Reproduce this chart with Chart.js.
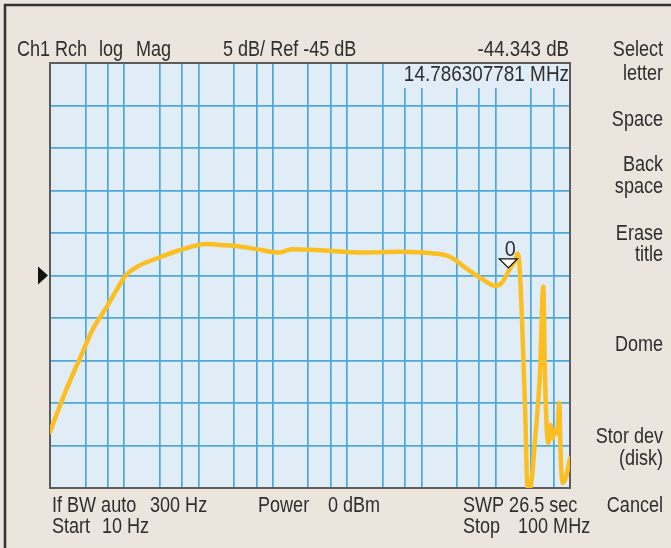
<!DOCTYPE html>
<html>
<head>
<meta charset="utf-8">
<script src="https://cdn.jsdelivr.net/npm/chart.js@4"></script>
<style>
  html, body { margin: 0; padding: 0; background: #ebe5dd; }
  canvas { display: block; }
</style>
</head>
<body>
<canvas id="trace" width="671" height="548"></canvas>
<script>
// Trace (Hz, dB)
const freqHz = [10, 15.9, 20.6, 28.1, 38.3, 58, 79, 102, 147, 273, 562, 1285, 1940, 2930, 6050,
    11800, 13800, 17900, 38900, 165000, 514000, 1.45e6, 2.42e6, 4.06e6, 6.81e6, 9.78e6,
    1.2e7, 1.556e7, 1.82e7, 1.98e7, 2.12e7, 2.48e7, 2.69e7, 2.89e7, 3.38e7, 3.94e7, 4.37e7,
    4.6e7, 4.85e7, 5.1e7, 5.5e7, 5.85e7, 6.28e7, 6.75e7, 7.18e7, 7.5e7, 7.98e7, 8.84e7, 1e8];
const magDb = [-63.4, -58.8, -56.5, -53.8, -51.2, -48.7, -46.7, -45.1, -44.0, -43.0, -42.0, -41.3, -41.4, -41.5, -41.9,
    -42.3, -42.2, -41.9, -42.0, -42.3, -42.2, -42.4, -42.8, -44.2, -45.5, -46.2,
    -45.9, -44.2, -43.2, -42.4, -44.7, -60.4, -70, -70, -64.4, -56.5, -46.3,
    -56.5, -62.8, -64.7, -62.6, -64.2, -63.2, -63.6, -60.0, -66.3, -69.4, -68.7, -66.5];

// vertical graticule at 1, 3, 6 x each decade
const gridFreqs = [10, 30, 60, 100, 300, 600, 1e3, 3e3, 6e3, 1e4, 3e4, 6e4, 1e5, 3e5, 6e5,
    1e6, 3e6, 6e6, 1e7, 3e7, 6e7, 1e8];
const refDb = -45;
const markerFreq = 14.786307781e6;
const markerDb = -44.343;

const headerLeft = [["Ch1", 17], ["Rch", 55], ["log", 99], ["Mag", 136], ["5 dB/ Ref -45 dB", 223]];
const footer = [
    ["If BW auto", 52, 512], ["300 Hz", 150, 512], ["Power", 258, 512], ["0 dBm", 328, 512], ["SWP 26.5 sec", 463, 512],
    ["Start", 52, 533], ["10 Hz", 102, 533], ["Stop", 463, 533], ["100 MHz", 518, 533]
];
const softKeys = [["Select", 56], ["letter", 80], ["Space", 126], ["Back", 171], ["space", 193],
    ["Erase", 240], ["title", 261], ["Dome", 351], ["Stor dev", 443], ["(disk)", 465], ["Cancel", 512]];

const FONT = '22px "Liberation Sans", Arial, sans-serif';
const SQUEEZE = 0.82;   // no narrow face installed, so condense by hand
const INK = '#2e2e2e';
const GRID = '#4ea7d9';

function label(ctx, text, x, y, align, sq) {
    ctx.save();
    ctx.translate(x, y);
    ctx.scale(sq || SQUEEZE, 1);
    ctx.textAlign = align || 'left';
    ctx.fillText(text, 0, 0);
    ctx.restore();
}

const screenPlugin = {
    id: 'screen',
    beforeDraw(chart) {
        const ctx = chart.ctx, a = chart.chartArea;
        ctx.save();
        ctx.fillStyle = '#ebe5dd';
        ctx.fillRect(0, 0, chart.width, chart.height);
        ctx.strokeStyle = '#333';
        ctx.lineWidth = 2.5;
        ctx.strokeRect(5, 5, chart.width + 20, chart.height + 20);
        ctx.fillStyle = '#e0ecf6';
        ctx.fillRect(a.left, a.top, a.right - a.left, a.bottom - a.top);
        ctx.restore();
    },
    beforeDatasetsDraw(chart) {
        const ctx = chart.ctx, a = chart.chartArea;
        ctx.save();
        // readout box hides the graticule under the frequency text
        ctx.fillStyle = '#e0ecf6';
        ctx.fillRect(399, a.top + 1, a.right - 399, 24);
        ctx.strokeStyle = '#5c5c5c';
        ctx.lineWidth = 2;
        ctx.strokeRect(a.left, a.top, a.right - a.left, a.bottom - a.top);
        ctx.restore();
    },
    afterDraw(chart) {
        const ctx = chart.ctx, a = chart.chartArea;
        const x = chart.scales.x, y = chart.scales.y;
        ctx.save();
        ctx.font = FONT;
        ctx.fillStyle = INK;
        ctx.textBaseline = 'alphabetic';
        headerLeft.forEach(t => label(ctx, t[0], t[1], 56));
        footer.forEach(t => label(ctx, t[0], t[1], t[2]));
        label(ctx, markerDb.toFixed(3) + ' dB', a.right - 1, 56, 'right', 0.85);
        label(ctx, (markerFreq / 1e6).toFixed(9) + ' MHz', a.right - 1, 81, 'right', 0.86);
        softKeys.forEach(t => label(ctx, t[0], 663, t[1], 'right'));

        // reference level arrow
        const ry = y.getPixelForValue(refDb);
        ctx.fillStyle = '#111';
        ctx.beginPath();
        ctx.moveTo(38, ry - 9);
        ctx.lineTo(48, ry);
        ctx.lineTo(38, ry + 9);
        ctx.closePath();
        ctx.fill();

        // marker 0
        const mx = x.getPixelForValue(markerFreq), my = y.getPixelForValue(markerDb) - 2;
        ctx.fillStyle = '#fff';
        ctx.strokeStyle = '#111';
        ctx.lineWidth = 1.3;
        ctx.beginPath();
        ctx.moveTo(mx - 9, my - 9);
        ctx.lineTo(mx + 9, my - 9);
        ctx.lineTo(mx, my);
        ctx.closePath();
        ctx.fill();
        ctx.stroke();
        ctx.fillStyle = INK;
        label(ctx, '0', mx + 2, my - 12, 'center', 0.9);
        ctx.restore();
    }
};

new Chart(document.getElementById('trace'), {
    type: 'line',
    data: {
        datasets: [{
            data: freqHz.map((f, i) => ({ x: f, y: magDb[i] })),
            borderColor: '#fcbf22',
            borderWidth: 4.5,
            pointRadius: 0,
            cubicInterpolationMode: 'monotone',
            borderJoinStyle: 'round',
            borderCapStyle: 'round'
        }]
    },
    options: {
        responsive: false,
        animation: false,
        layout: { padding: { left: 50, top: 63, right: 101, bottom: 60 } },
        plugins: { legend: { display: false }, tooltip: { enabled: false } },
        scales: {
            x: {
                type: 'logarithmic',
                min: 10,
                max: 1e8,
                afterBuildTicks: scale => { scale.ticks = gridFreqs.map(v => ({ value: v })); },
                ticks: { display: false },
                grid: { color: GRID, lineWidth: 1.7, drawTicks: false },
                border: { display: false }
            },
            y: {
                min: -70,
                max: -20,
                ticks: { display: false, stepSize: 5 },
                grid: { color: GRID, lineWidth: 1.7, drawTicks: false },
                border: { display: false }
            }
        }
    },
    plugins: [screenPlugin]
});
</script>
</body>
</html>
